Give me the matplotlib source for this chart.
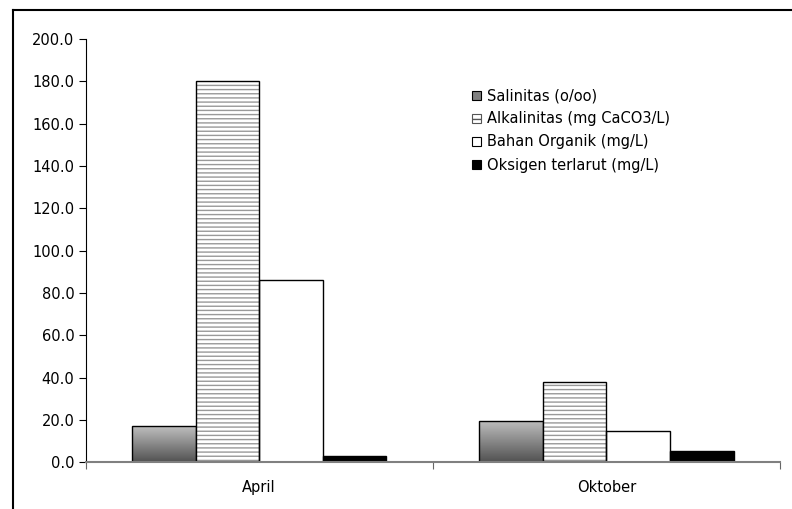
import numpy as np
import matplotlib.pyplot as plt
from matplotlib.patches import Rectangle
from matplotlib.lines import Line2D

plt.rcParams["font.family"] = ["DejaVu Sans"]
plt.rcParams["hatch.linewidth"] = 1.0

# -------------------------------------------------------------------------
# Data
# -------------------------------------------------------------------------

months = ["April", "Oktober"]
series = [
    "Salinitas (o/oo)",
    "Alkalinitas (mg CaCO3/L)",
    "Bahan Organik (mg/L)",
    "Oksigen terlarut (mg/L)",
]
salinitas = [17.0, 19.5]
alkalinitas = [180.0, 38.0]
bahan_organik = [86.3, 14.6]
oksigen = [3.0, 5.5]
values = [salinitas, alkalinitas, bahan_organik, oksigen]

yticks = np.arange(0, 201, 20)

# -------------------------------------------------------------------------
# Plot
# -------------------------------------------------------------------------

fig = plt.figure(figsize=(7.92, 5.09), dpi=100)
ax = fig.add_axes([0.108, 0.092, 0.877, 0.831])

# outer frame (only left and top edges are visible in the original)
fig.add_artist(Line2D([0.017, 0.017], [0.0, 0.980], color="black", lw=1.5,
                      transform=fig.transFigure))
fig.add_artist(Line2D([0.017, 1.0], [0.980, 0.980], color="black", lw=1.5,
                      transform=fig.transFigure))

width = 0.183
x = np.arange(len(months))
offsets = (np.arange(4) - 1.5) * width

styles = [
    dict(facecolor="none", edgecolor="black", lw=1.0),
    dict(facecolor="white", edgecolor="#999999", hatch="----", lw=0),
    dict(facecolor="white", edgecolor="black", lw=1.0),
    dict(facecolor="black", edgecolor="black", lw=1.0),
]

gradient = np.linspace(0.75, 0.32, 256).reshape(-1, 1)

for i, vals in enumerate(values):
    bars = ax.bar(x + offsets[i], vals, width, zorder=2, **styles[i])
    for b in bars:
        if i == 0:
            # vertical grey gradient clipped to the bar
            im = ax.imshow(gradient, cmap="gray", vmin=0, vmax=1, aspect="auto",
                           extent=[b.get_x(), b.get_x() + b.get_width(), 0, b.get_height()],
                           origin="upper", zorder=1.5)
            im.set_clip_path(b)
        if i == 1:
            ax.add_patch(Rectangle((b.get_x(), 0), b.get_width(), b.get_height(),
                                   facecolor="none", edgecolor="black", lw=1.0, zorder=3))

ax.set_xlim(-0.5, 1.5)
ax.set_ylim(0, 200)
ax.set_yticks(yticks)
ax.set_yticklabels([f"{v:.1f}" for v in yticks], fontsize=10.5)

ax.set_xticks([-0.5, 0.5, 1.5])
ax.set_xticklabels([])
ax.set_xticks(x, minor=True)
ax.set_xticklabels(months, minor=True, fontsize=10.5)
ax.tick_params(axis="x", which="minor", length=0, pad=13)
ax.tick_params(axis="x", which="major", length=5, direction="out", color="#666666")
ax.tick_params(axis="y", length=5, direction="out", pad=3)

ax.spines["top"].set_visible(False)
ax.spines["right"].set_visible(False)
ax.spines["bottom"].set_color("#808080")
ax.spines["bottom"].set_linewidth(1.5)
ax.spines["bottom"].set_zorder(4)

# legend
handles = [
    Rectangle((0, 0), 1, 1, facecolor="#808080", edgecolor="black", lw=0.8),
    Rectangle((0, 0), 1, 1, facecolor="white", edgecolor="#555555", hatch="---", lw=0.8),
    Rectangle((0, 0), 1, 1, facecolor="white", edgecolor="black", lw=0.8),
    Rectangle((0, 0), 1, 1, facecolor="black", edgecolor="black", lw=0.8),
]
fig.legend(handles, series, loc="upper left", bbox_to_anchor=(0.580, 0.852),
           frameon=False, fontsize=10.5, handlelength=0.6, handleheight=0.6,
           handletextpad=0.4, labelspacing=0.55)

fig.savefig("out.png", dpi=100)
